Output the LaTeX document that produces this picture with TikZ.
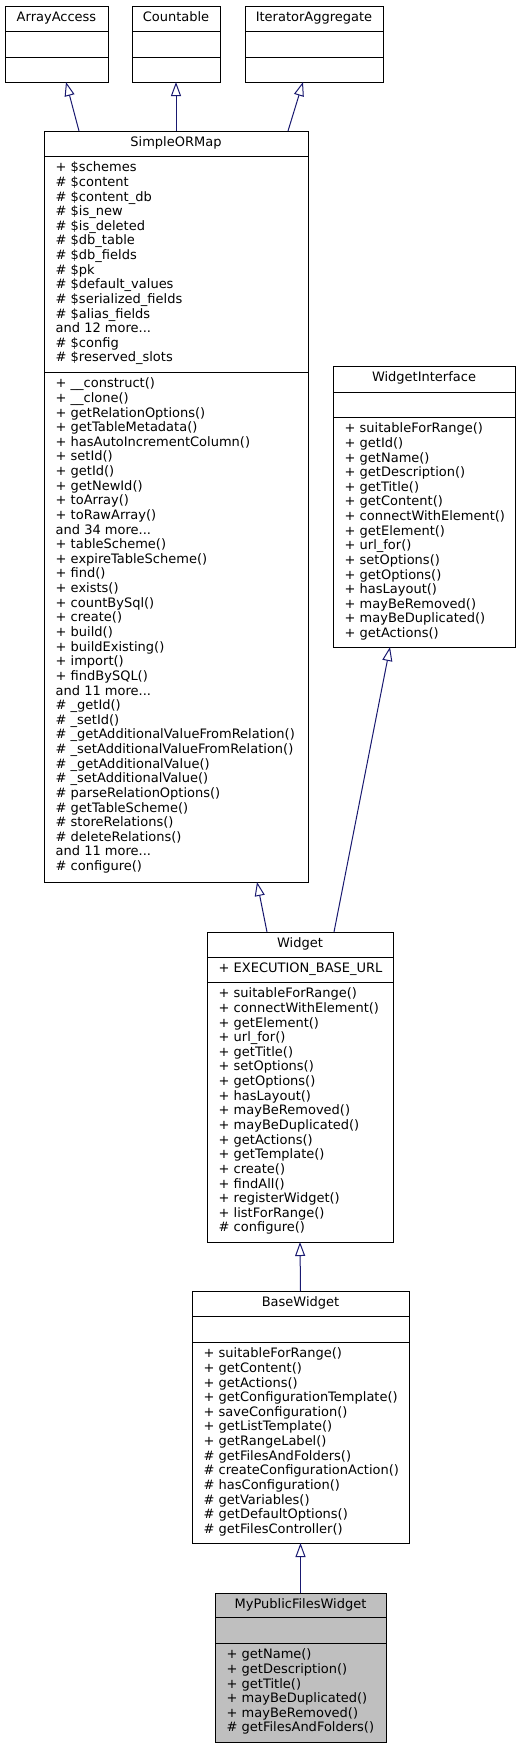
\documentclass[tikz,border=0pt]{standalone}
\usepackage{fontspec}
\usetikzlibrary{arrows.meta}
\newfontfamily\umlfont{DejaVu Sans}
\definecolor{edgeblue}{HTML}{191970}
\definecolor{rootgray}{HTML}{BFBFBF}

\tikzset{
  classbody/.style={draw=black, line width=1pt, fill=white, rectangle, inner sep=0pt, outer sep=0pt},
  classline/.style={draw=black, line width=1pt},
  classtitle/.style={anchor=base, inner sep=0pt, font=\umlfont\fontsize{13}{14.63}\selectfont},
  member/.style={anchor=base west, inner sep=0pt, font=\umlfont\fontsize{13}{14.63}\selectfont},
  inherit/.style={draw=edgeblue, line width=1pt, -{Triangle[open, length=14pt, width=10pt]}}
}

% "and N more..." line (kept out of the \foreach dots syntax)
\newcommand{\andmore}[1]{and #1 more.{}.{}.}
% one text node per member line: prefix, x, first baseline, lines
\newcommand{\memberlines}[4]{%
  \foreach \entry [count=\idx from 0] in {#4}
    \node[member] (#1-\idx) at (#2, {#3+14.63*\idx}) {\entry};
}

\begin{document}
\begin{tikzpicture}[x=1pt, y=-1pt]
\useasboundingbox (0,0) rectangle (521,1748);

% interfaces
\node[classbody, minimum width=103pt, minimum height=76pt] (arrayaccess) at (56.5,44) {};
\node[classtitle] (arrayaccess-title) at (56.5,21.3) {ArrayAccess};
\draw[classline] (arrayaccess.west |- 0,31) -- (arrayaccess.east |- 0,31);
\draw[classline] (arrayaccess.west |- 0,57) -- (arrayaccess.east |- 0,57);

\node[classbody, minimum width=88pt, minimum height=76pt] (countable) at (176,44) {};
\node[classtitle] (countable-title) at (176,21.3) {Countable};
\draw[classline] (countable.west |- 0,31) -- (countable.east |- 0,31);
\draw[classline] (countable.west |- 0,57) -- (countable.east |- 0,57);

\node[classbody, minimum width=138pt, minimum height=76pt] (iteratoraggregate) at (314,44) {};
\node[classtitle] (iteratoraggregate-title) at (314,21.3) {IteratorAggregate};
\draw[classline] (iteratoraggregate.west |- 0,31) -- (iteratoraggregate.east |- 0,31);
\draw[classline] (iteratoraggregate.west |- 0,57) -- (iteratoraggregate.east |- 0,57);

% SimpleORMap
\node[classbody, minimum width=264pt, minimum height=751pt] (sorm) at (176,506.5) {};
\node[classtitle] (sorm-title) at (176,146.3) {SimpleORMap};
\draw[classline] (sorm.west |- 0,156) -- (sorm.east |- 0,156);
\draw[classline] (sorm.west |- 0,372) -- (sorm.east |- 0,372);
\memberlines{sorm-attr}{55.5}{171.8}{+ \$schemes, \# \$content, \# \$content\_db, \# \$is\_new,
  \# \$is\_deleted, \# \$db\_table, \# \$db\_fields, \# \$pk, \# \$default\_values,
  \# \$serialized\_fields, \# \$alias\_fields, \andmore{12}, \# \$config, \# \$reserved\_slots}
\memberlines{sorm-op}{55.5}{387.8}{+ \_\_construct(), + \_\_clone(), + getRelationOptions(),
  + getTableMetadata(), + hasAutoIncrementColumn(), + setId(), + getId(), + getNewId(),
  + toArray(), + toRawArray(), \andmore{34}, + tableScheme(), + expireTableScheme(),
  + find(), + exists(), + countBySql(), + create(), + build(), + buildExisting(),
  + import(), + findBySQL(), \andmore{11}, \# \_getId(), \# \_setId(),
  \# \_getAdditionalValueFromRelation(), \# \_setAdditionalValueFromRelation(),
  \# \_getAdditionalValue(), \# \_setAdditionalValue(), \# parseRelationOptions(),
  \# getTableScheme(), \# storeRelations(), \# deleteRelations(), \andmore{11},
  \# configure()}

% WidgetInterface
\node[classbody, minimum width=182pt, minimum height=281pt] (widgetinterface) at (424,506.5) {};
\node[classtitle] (widgetinterface-title) at (424,381.3) {WidgetInterface};
\draw[classline] (widgetinterface.west |- 0,392) -- (widgetinterface.east |- 0,392);
\draw[classline] (widgetinterface.west |- 0,417) -- (widgetinterface.east |- 0,417);
\memberlines{widgetinterface-op}{344.5}{432.8}{+ suitableForRange(), + getId(), + getName(),
  + getDescription(), + getTitle(), + getContent(), + connectWithElement(), + getElement(),
  + url\_for(), + setOptions(), + getOptions(), + hasLayout(), + mayBeRemoved(),
  + mayBeDuplicated(), + getActions()}

% Widget
\node[classbody, minimum width=186pt, minimum height=310pt] (widget) at (300,1087) {};
\node[classtitle] (widget-title) at (300,947.3) {Widget};
\draw[classline] (widget.west |- 0,957) -- (widget.east |- 0,957);
\draw[classline] (widget.west |- 0,982) -- (widget.east |- 0,982);
\memberlines{widget-attr}{218.5}{972.8}{+ EXECUTION\_BASE\_URL}
\memberlines{widget-op}{218.5}{997.8}{+ suitableForRange(), + connectWithElement(),
  + getElement(), + url\_for(), + getTitle(), + setOptions(), + getOptions(), + hasLayout(),
  + mayBeRemoved(), + mayBeDuplicated(), + getActions(), + getTemplate(), + create(),
  + findAll(), + registerWidget(), + listForRange(), \# configure()}

% BaseWidget
\node[classbody, minimum width=217pt, minimum height=252pt] (basewidget) at (300.5,1417) {};
\node[classtitle] (basewidget-title) at (300.5,1306.3) {BaseWidget};
\draw[classline] (basewidget.west |- 0,1316) -- (basewidget.east |- 0,1316);
\draw[classline] (basewidget.west |- 0,1342) -- (basewidget.east |- 0,1342);
\memberlines{basewidget-op}{203.5}{1357.8}{+ suitableForRange(), + getContent(), + getActions(),
  + getConfigurationTemplate(), + saveConfiguration(), + getListTemplate(),
  + getRangeLabel(), \# getFilesAndFolders(), \# createConfigurationAction(),
  \# hasConfiguration(), \# getVariables(), \# getDefaultOptions(), \# getFilesController()}

% MyPublicFilesWidget
\node[classbody, fill=rootgray, minimum width=171pt, minimum height=149pt] (mypublicfileswidget) at (300.5,1667.5) {};
\node[classtitle] (mypublicfileswidget-title) at (300.5,1608.3) {MyPublicFilesWidget};
\draw[classline] (mypublicfileswidget.west |- 0,1617) -- (mypublicfileswidget.east |- 0,1617);
\draw[classline] (mypublicfileswidget.west |- 0,1643) -- (mypublicfileswidget.east |- 0,1643);
\memberlines{mypublicfileswidget-op}{226.5}{1658.8}{+ getName(), + getDescription(), + getTitle(),
  + mayBeDuplicated(), + mayBeRemoved(), \# getFilesAndFolders()}

% inheritance
\draw[inherit] ([xshift=35pt]sorm.north west) -- ([xshift=61pt]arrayaccess.south west);
\draw[inherit] (sorm.north) -- (countable.south);
\draw[inherit] ([xshift=-20pt]sorm.north east) -- ([xshift=-11pt]iteratoraggregate.south);
\draw[inherit] ([xshift=-33pt]widget.north) -- ([xshift=81pt]sorm.south);
\draw[inherit] ([xshift=34pt]widget.north) -- ([xshift=-34pt]widgetinterface.south);
\draw[inherit] (basewidget.north) -- (widget.south);
\draw[inherit] (mypublicfileswidget.north) -- (basewidget.south);
\end{tikzpicture}
\end{document}
